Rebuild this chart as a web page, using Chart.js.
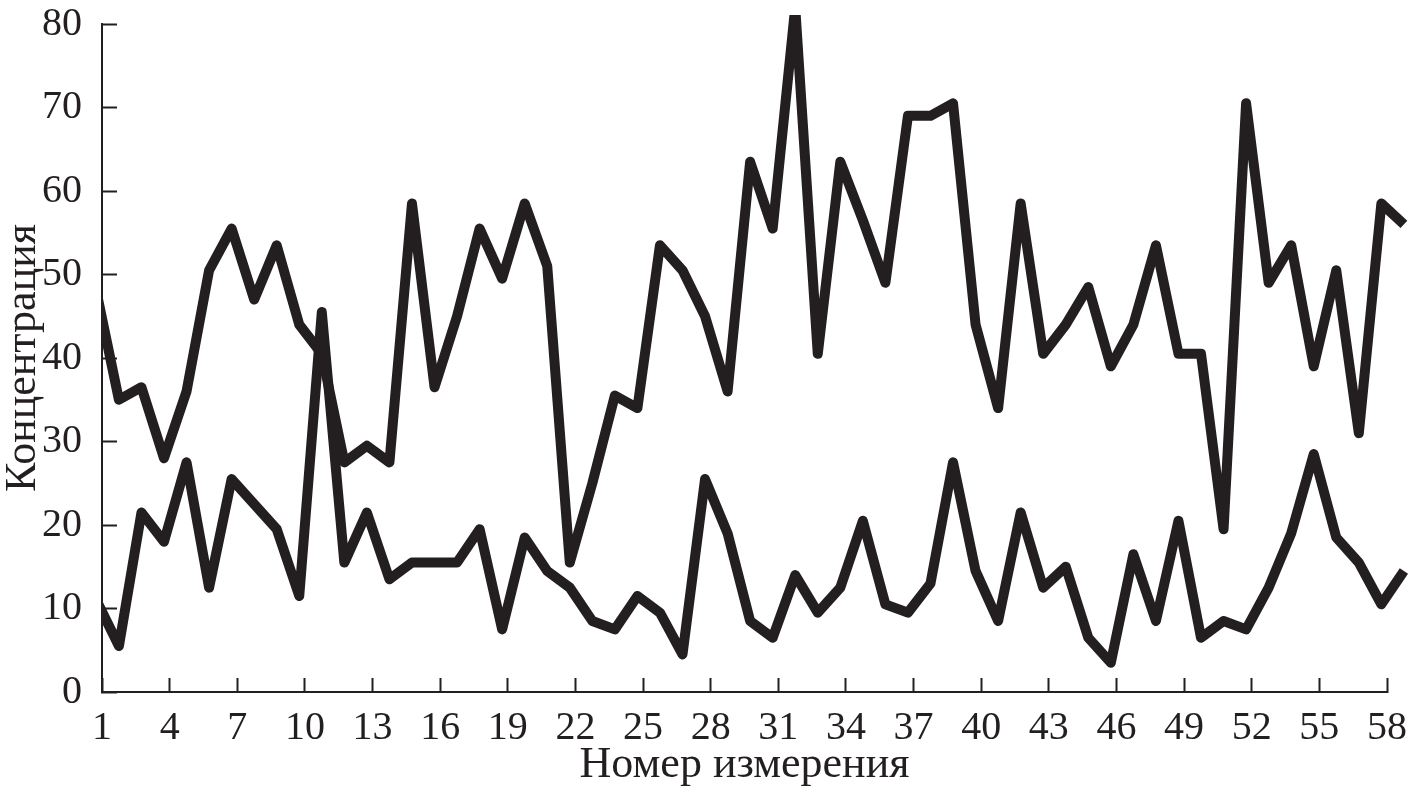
<!DOCTYPE html>
<html>
<head>
<meta charset="utf-8">
<script src="https://cdn.jsdelivr.net/npm/chart.js@4.4.1/dist/chart.umd.min.js"></script>
<style>
  html, body { margin: 0; padding: 0; background: #ffffff; }
  #wrap { width: 1409px; height: 793px; }
</style>
</head>
<body>
<div id="wrap"><canvas id="c" width="1409" height="793"></canvas></div>
<script>
// Measurement numbers (x categories)
const measurementNumbers = [1, 2, 3, 4, 5, 6, 7, 8, 9, 10, 11, 12, 13, 14, 15, 16, 17, 18, 19, 20,
  21, 22, 23, 24, 25, 26, 27, 28, 29, 30, 31, 32, 33, 34, 35, 36, 37, 38, 39, 40,
  41, 42, 43, 44, 45, 46, 47, 48, 49, 50, 51, 52, 53, 54, 55, 56, 57, 58, 59];

// Upper series (concentration)
const seriesUpper = [48, 35, 36.5, 28, 36, 50.5, 55.5, 47, 53.5, 44,
  40.5, 27.5, 29.5, 27.5, 58.5, 36.5, 45, 55.5, 49.5, 58.5,
  51, 15.5, 25, 35.5, 34, 53.5, 50.5, 45, 36, 63.5,
  55.5, 82, 40.5, 63.5, 56.5, 49, 69, 69, 70.5, 44,
  34, 58.5, 40.5, 44, 48.5, 39, 44, 53.5, 40.5, 40.5,
  19.5, 70.5, 49, 53.5, 39, 50.5, 31, 58.5, 56];

// Lower series (concentration)
const seriesLower = [11, 5.5, 21.5, 18, 27.5, 12.5, 25.5, 22.5, 19.5, 11.5,
  45.5, 15.5, 21.5, 13.5, 15.5, 15.5, 15.5, 19.5, 7.5, 18.5,
  14.5, 12.5, 8.5, 7.5, 11.5, 9.5, 4.5, 25.5, 19, 8.5,
  6.5, 14, 9.5, 12.5, 20.5, 10.5, 9.5, 13, 27.5, 14.5,
  8.5, 21.5, 12.5, 15, 6.5, 3.5, 16.5, 8.5, 20.5, 6.5,
  8.5, 7.5, 12.5, 19, 28.5, 18.5, 15.5, 10.5, 14.5];

// Axis settings
const xTickLabels = [1, 4, 7, 10, 13, 16, 19, 22, 25, 28, 31, 34, 37, 40, 43, 46, 49, 52, 55, 58];
const yTickValues = [0, 10, 20, 30, 40, 50, 60, 70, 80];
const xTitle = 'Номер измерения';
const yTitle = 'Концентрация';

// In the original figure the tick marks sit a quarter step to the right of the data points
const X_TICK_SHIFT = 0.25;

const INK = '#231f20';
const FAMILY = '"Liberation Serif", "Times New Roman", serif';
const TICK_FONT = { family: FAMILY, size: 40 };
const TITLE_FONT = { family: FAMILY, size: 44 };

function toPoints(values) {
  return measurementNumbers.map((n, i) => ({ x: n, y: values[i] }));
}

const lineStyle = {
  borderColor: INK,
  borderWidth: 10,
  borderJoinStyle: 'round',
  borderCapStyle: 'butt',
  pointRadius: 0,
  pointHoverRadius: 0,
  tension: 0,
  fill: false,
  clip: { left: 0, top: 9, right: false, bottom: false }
};

new Chart(document.getElementById('c'), {
  type: 'line',
  data: {
    datasets: [
      Object.assign({ label: 'upper', data: toPoints(seriesUpper) }, lineStyle),
      Object.assign({ label: 'lower', data: toPoints(seriesLower) }, lineStyle)
    ]
  },
  options: {
    responsive: false,
    animation: false,
    events: [],
    layout: { padding: { top: 24, right: 22, left: 0, bottom: 0 } },
    plugins: { legend: { display: false }, tooltip: { enabled: false } },
    scales: {
      x: {
        type: 'linear',
        min: xTickLabels[0] + X_TICK_SHIFT,
        max: xTickLabels[xTickLabels.length - 1] + X_TICK_SHIFT,
        afterBuildTicks: s => { s.ticks = xTickLabels.map(v => ({ value: v + X_TICK_SHIFT })); },
        afterFit: s => { s.height = 101; s.paddingLeft = 0; s.paddingRight = 0; },
        grid: { drawOnChartArea: false, drawTicks: true, tickLength: -14, tickWidth: 2, tickColor: INK },
        border: { display: true, color: INK, width: 2 },
        ticks: {
          color: INK, font: TICK_FONT, padding: 26, maxRotation: 0, autoSkip: false,
          callback: (value, index) => String(xTickLabels[index])
        },
        title: { display: true, text: xTitle, color: INK, font: TITLE_FONT, padding: { top: 0, bottom: 1 } }
      },
      y: {
        type: 'linear',
        min: yTickValues[0],
        max: yTickValues[yTickValues.length - 1],
        afterBuildTicks: s => { s.ticks = yTickValues.map(v => ({ value: v })); },
        afterFit: s => { s.width = 102; s.paddingTop = 0; s.paddingBottom = 0; },
        grid: { drawOnChartArea: false, drawTicks: true, tickLength: -15, tickWidth: 2, tickColor: INK },
        border: { display: true, color: INK, width: 2 },
        ticks: { color: INK, font: TICK_FONT, padding: 35 },
        title: { display: true, text: yTitle, color: INK, font: TITLE_FONT, padding: { top: -3, bottom: 0 } }
      }
    }
  }
});
</script>
</body>
</html>
